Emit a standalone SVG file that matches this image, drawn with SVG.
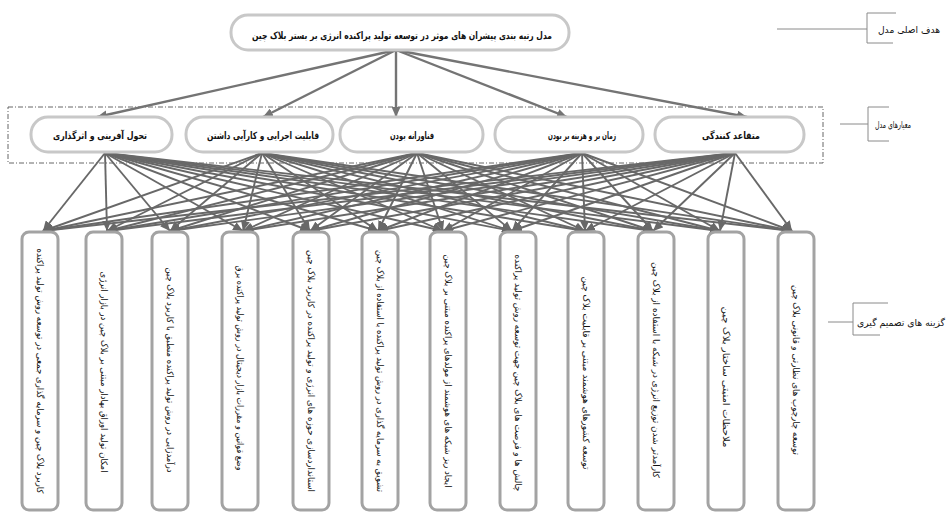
<svg xmlns="http://www.w3.org/2000/svg" width="947" height="513" viewBox="0 0 947 513">
<style>
.bg{fill:#ffffff}
.goal{fill:#fff;stroke:#c8c8c8;stroke-width:3}
.crit{fill:#fff;stroke:#c8c8c8;stroke-width:3}
.alt{fill:#fff;stroke:#a3a3a3;stroke-width:3}
.t{font-family:"DejaVu Sans",sans-serif;fill:#111;text-anchor:middle;dominant-baseline:central}
.tb{font-weight:bold;font-size:10px}
.ta{font-size:9px}
.tl{font-size:9.5px}
.c{stroke:#686868;stroke-width:1.9;fill:none;marker-end:url(#ah)}
.ct{stroke:#747474;stroke-width:2.4;fill:none;marker-end:url(#ah2)}
.br{stroke:#8a8a8a;stroke-width:1;fill:none}
.dash{fill:none;stroke:#666;stroke-width:1;stroke-dasharray:5 2 1 2}
</style>
<defs>
<marker id="ah" markerUnits="userSpaceOnUse" markerWidth="10" markerHeight="9" refX="10" refY="4.5" orient="auto">
<path d="M0,0 L10,4.5 L0,9 z" fill="#686868"/>
</marker>
<marker id="ah2" markerUnits="userSpaceOnUse" markerWidth="10" markerHeight="9" refX="10" refY="4.5" orient="auto">
<path d="M0,0 L10,4.5 L0,9 z" fill="#747474"/>
</marker>
</defs>
<rect class="bg" x="0" y="0" width="947" height="513"/>
<rect class="dash" x="8" y="107" width="815" height="56"/>

<g id="connectors">
<line class="ct" x1="396" y1="50" x2="97" y2="117"/>
<line class="ct" x1="396" y1="50" x2="263" y2="117"/>
<line class="ct" x1="396" y1="50" x2="396" y2="117"/>
<line class="ct" x1="396" y1="50" x2="567" y2="117"/>
<line class="ct" x1="396" y1="50" x2="747" y2="117"/>

<line class="c" x1="105" y1="153" x2="43" y2="231"/>
<line class="c" x1="105" y1="153" x2="107" y2="231"/>
<line class="c" x1="105" y1="153" x2="170" y2="231"/>
<line class="c" x1="105" y1="153" x2="243" y2="231"/>
<line class="c" x1="105" y1="153" x2="310" y2="231"/>
<line class="c" x1="105" y1="153" x2="378" y2="231"/>
<line class="c" x1="105" y1="153" x2="443" y2="231"/>
<line class="c" x1="105" y1="153" x2="512" y2="231"/>
<line class="c" x1="105" y1="153" x2="585" y2="231"/>
<line class="c" x1="105" y1="153" x2="653" y2="231"/>
<line class="c" x1="105" y1="153" x2="720" y2="231"/>
<line class="c" x1="105" y1="153" x2="792" y2="231"/>

<line class="c" x1="262" y1="153" x2="43" y2="231"/>
<line class="c" x1="262" y1="153" x2="107" y2="231"/>
<line class="c" x1="262" y1="153" x2="170" y2="231"/>
<line class="c" x1="262" y1="153" x2="243" y2="231"/>
<line class="c" x1="262" y1="153" x2="310" y2="231"/>
<line class="c" x1="262" y1="153" x2="378" y2="231"/>
<line class="c" x1="262" y1="153" x2="443" y2="231"/>
<line class="c" x1="262" y1="153" x2="512" y2="231"/>
<line class="c" x1="262" y1="153" x2="585" y2="231"/>
<line class="c" x1="262" y1="153" x2="653" y2="231"/>
<line class="c" x1="262" y1="153" x2="720" y2="231"/>
<line class="c" x1="262" y1="153" x2="792" y2="231"/>

<line class="c" x1="417" y1="153" x2="43" y2="231"/>
<line class="c" x1="417" y1="153" x2="107" y2="231"/>
<line class="c" x1="417" y1="153" x2="170" y2="231"/>
<line class="c" x1="417" y1="153" x2="243" y2="231"/>
<line class="c" x1="417" y1="153" x2="310" y2="231"/>
<line class="c" x1="417" y1="153" x2="378" y2="231"/>
<line class="c" x1="417" y1="153" x2="443" y2="231"/>
<line class="c" x1="417" y1="153" x2="512" y2="231"/>
<line class="c" x1="417" y1="153" x2="585" y2="231"/>
<line class="c" x1="417" y1="153" x2="653" y2="231"/>
<line class="c" x1="417" y1="153" x2="720" y2="231"/>
<line class="c" x1="417" y1="153" x2="792" y2="231"/>

<line class="c" x1="582" y1="153" x2="43" y2="231"/>
<line class="c" x1="582" y1="153" x2="107" y2="231"/>
<line class="c" x1="582" y1="153" x2="170" y2="231"/>
<line class="c" x1="582" y1="153" x2="243" y2="231"/>
<line class="c" x1="582" y1="153" x2="310" y2="231"/>
<line class="c" x1="582" y1="153" x2="378" y2="231"/>
<line class="c" x1="582" y1="153" x2="443" y2="231"/>
<line class="c" x1="582" y1="153" x2="512" y2="231"/>
<line class="c" x1="582" y1="153" x2="585" y2="231"/>
<line class="c" x1="582" y1="153" x2="653" y2="231"/>
<line class="c" x1="582" y1="153" x2="720" y2="231"/>
<line class="c" x1="582" y1="153" x2="792" y2="231"/>

<line class="c" x1="735" y1="153" x2="43" y2="231"/>
<line class="c" x1="735" y1="153" x2="107" y2="231"/>
<line class="c" x1="735" y1="153" x2="170" y2="231"/>
<line class="c" x1="735" y1="153" x2="243" y2="231"/>
<line class="c" x1="735" y1="153" x2="310" y2="231"/>
<line class="c" x1="735" y1="153" x2="378" y2="231"/>
<line class="c" x1="735" y1="153" x2="443" y2="231"/>
<line class="c" x1="735" y1="153" x2="512" y2="231"/>
<line class="c" x1="735" y1="153" x2="585" y2="231"/>
<line class="c" x1="735" y1="153" x2="653" y2="231"/>
<line class="c" x1="735" y1="153" x2="720" y2="231"/>
<line class="c" x1="735" y1="153" x2="792" y2="231"/>
</g>

<g id="goal">
<rect class="goal" x="231" y="15" width="338" height="35" rx="17"/>
<text class="t tb" x="402" y="35" textLength="300" lengthAdjust="spacingAndGlyphs">مدل رتبه بندی پیشران های موثر در توسعه تولید پراکنده انرژی بر بستر بلاک چین</text>
</g>

<g id="crit1">
<rect class="crit" x="31" y="117" width="141" height="35" rx="17"/>
<text class="t tb" x="100" y="135" textLength="94" lengthAdjust="spacingAndGlyphs">تحول آفرینی و اثرگذاری</text>
</g>
<g id="crit2">
<rect class="crit" x="186" y="117" width="147" height="35" rx="17"/>
<text class="t tb" x="263" y="135" textLength="112" lengthAdjust="spacingAndGlyphs">قابلیت اجرایی و کارآیی داشتن</text>
</g>
<g id="crit3">
<rect class="crit" x="340" y="117" width="143" height="35" rx="17"/>
<text class="t tb" x="412" y="135" textLength="44" lengthAdjust="spacingAndGlyphs">فناورانه بودن</text>
</g>
<g id="crit4">
<rect class="crit" x="495" y="117" width="148" height="35" rx="17"/>
<text class="t tb" x="582" y="135" textLength="68" lengthAdjust="spacingAndGlyphs">زمان بر و هزینه بر بودن</text>
</g>
<g id="crit5">
<rect class="crit" x="655" y="117" width="149" height="35" rx="17"/>
<text class="t tb" x="731" y="135" textLength="58" lengthAdjust="spacingAndGlyphs">متقاعد کنندگی</text>
</g>

<g id="alt1">
<rect class="alt" x="22" y="232" width="36" height="278" rx="7"/>
<text class="t ta" transform="translate(40,371) rotate(90)" x="0" y="0" textLength="245" lengthAdjust="spacingAndGlyphs">کاربرد بلاک چین و سرمایه گذاری جمعی در توسعه روش تولید پراکنده</text>
</g>
<g id="alt2">
<rect class="alt" x="86" y="232" width="36" height="278" rx="7"/>
<text class="t ta" transform="translate(104,372) rotate(90)" x="0" y="0" textLength="201" lengthAdjust="spacingAndGlyphs">امکان تولید اوراق بهادار مبتنی بر بلاک چین در بازار انرژی</text>
</g>
<g id="alt3">
<rect class="alt" x="152" y="232" width="36" height="278" rx="7"/>
<text class="t ta" transform="translate(170,370) rotate(90)" x="0" y="0" textLength="205" lengthAdjust="spacingAndGlyphs">درآمدزایی در روش تولید پراکنده منطبق با کاربرد بلاک چین</text>
</g>
<g id="alt4">
<rect class="alt" x="222" y="232" width="36" height="278" rx="7"/>
<text class="t ta" transform="translate(240,368) rotate(90)" x="0" y="0" textLength="205" lengthAdjust="spacingAndGlyphs">وضع قوانین و مقررات بازار دیجیتال در روش تولید پراکنده برق</text>
</g>
<g id="alt5">
<rect class="alt" x="293" y="232" width="36" height="278" rx="7"/>
<text class="t ta" transform="translate(311,371) rotate(90)" x="0" y="0" textLength="242" lengthAdjust="spacingAndGlyphs">استانداردسازی حوزه های انرژی و تولید پراکنده در کاربرد بلاک چین</text>
</g>
<g id="alt6">
<rect class="alt" x="362" y="232" width="36" height="278" rx="7"/>
<text class="t ta" transform="translate(380,371) rotate(90)" x="0" y="0" textLength="242" lengthAdjust="spacingAndGlyphs">تشویق به سرمایه گذاری در روش تولید پراکنده با استفاده از بلاک چین</text>
</g>
<g id="alt7">
<rect class="alt" x="430" y="232" width="36" height="278" rx="7"/>
<text class="t ta" transform="translate(448,371) rotate(90)" x="0" y="0" textLength="233" lengthAdjust="spacingAndGlyphs">ایجاد ریز شبکه های هوشمند از مولدهای پراکنده مبتنی بر بلاک چین</text>
</g>
<g id="alt8">
<rect class="alt" x="500" y="232" width="36" height="278" rx="7"/>
<text class="t ta" transform="translate(518,373) rotate(90)" x="0" y="0" textLength="237" lengthAdjust="spacingAndGlyphs">چالش ها و فرصت های بلاک چین جهت توسعه روش تولید پراکنده</text>
</g>
<g id="alt9">
<rect class="alt" x="568" y="232" width="36" height="278" rx="7"/>
<text class="t ta" transform="translate(586,373) rotate(90)" x="0" y="0" textLength="193" lengthAdjust="spacingAndGlyphs">توسعه کشورهای هوشمند مبتنی بر قابلیت بلاک چین</text>
</g>
<g id="alt10">
<rect class="alt" x="638" y="232" width="36" height="278" rx="7"/>
<text class="t ta" transform="translate(656,370) rotate(90)" x="0" y="0" textLength="216" lengthAdjust="spacingAndGlyphs">کارآمدتر شدن توزیع انرژی در شبکه با استفاده از بلاک چین</text>
</g>
<g id="alt11">
<rect class="alt" x="708" y="232" width="36" height="278" rx="7"/>
<text class="t ta" transform="translate(726,377) rotate(90)" x="0" y="0" textLength="141" lengthAdjust="spacingAndGlyphs">ملاحظات امنیتی ساختار بلاک چین</text>
</g>
<g id="alt12">
<rect class="alt" x="778" y="232" width="36" height="278" rx="7"/>
<text class="t ta" transform="translate(796,370) rotate(90)" x="0" y="0" textLength="170" lengthAdjust="spacingAndGlyphs">توسعه چارچوب های نظارتی و قانونی بلاک چین</text>
</g>

<g id="label-goal">
<path class="br" d="M777,29 H867 M896,13 H867 V43 H893"/>
<text class="t tl" x="909" y="29" textLength="62" lengthAdjust="spacingAndGlyphs">هدف اصلی مدل</text>
</g>
<g id="label-criteria">
<path class="br" d="M840,124 H868 M889,107 H868 V141 H889"/>
<text class="t tl" x="893" y="124" textLength="36" lengthAdjust="spacingAndGlyphs">معیارهای مدل</text>
</g>
<g id="label-alternatives">
<path class="br" d="M828,322 H853 M888,303 H853 V335 H880"/>
<text class="t tl" x="901" y="322" textLength="88" lengthAdjust="spacingAndGlyphs">گزینه های تصمیم گیری</text>
</g>
</svg>
